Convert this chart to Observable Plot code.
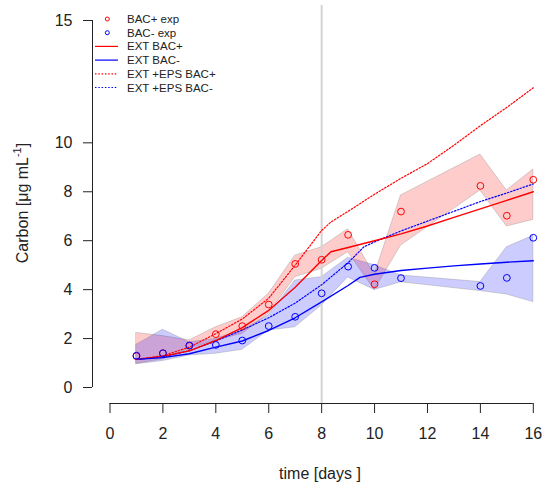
<!DOCTYPE html>
<html><head><meta charset="utf-8">
<script src="https://cdn.jsdelivr.net/npm/d3@7"></script>
<script src="https://cdn.jsdelivr.net/npm/@observablehq/plot@0.6"></script>
<style>body{margin:0;background:#fff}#chart{width:542px;height:484px}</style>
</head><body><div id="chart"></div>
<script>
// ---- data ----
const days = [1, 2, 3, 4, 5, 6, 7, 8, 9, 10, 11, 14, 15, 16];
const bacPlusExp  = [1.28, 1.40, 1.70, 2.18, 2.51, 3.39, 5.05, 5.22, 6.24, 4.22, 7.19, 8.24, 7.02, 8.49];
const bacMinusExp = [1.30, 1.40, 1.72, 1.74, 1.92, 2.51, 2.89, 3.85, 4.94, 4.89, 4.47, 4.15, 4.48, 6.12];
const bacPlusLow   = [0.97, 1.15, 1.58, 1.92, 2.19, 3.01, 4.51, 4.85, 5.53, 3.99, 5.80, 8.05, 6.58, 6.85];
const bacPlusHigh  = [2.23, 2.10, 1.92, 2.46, 2.87, 3.83, 5.39, 5.73, 6.47, 4.60, 7.85, 9.52, 8.05, 8.91];
const bacMinusLow  = [0.95, 1.08, 1.31, 1.38, 1.54, 2.33, 2.46, 3.35, 4.50, 3.99, 4.30, 3.94, 3.80, 3.49];
const bacMinusHigh = [1.75, 2.36, 1.85, 1.99, 2.33, 2.95, 4.37, 4.51, 5.30, 5.00, 4.58, 4.31, 5.73, 6.20];

const extPlusTimes = [1, 2, 3, 4, 5, 6, 7, 8, 8.35, 9, 10, 11, 12, 13, 14, 15, 16];
const extBacPlus   = [1.15, 1.27, 1.50, 1.92, 2.45, 3.15, 4.10, 5.19, 5.55, 5.72, 6.00, 6.28, 6.60, 6.95, 7.30, 7.65, 8.00];
const extMinusTimes = [1, 2, 3, 4, 5, 6, 7, 8, 9, 9.45, 10, 11, 12, 13, 14, 15, 16];
const extBacMinus   = [1.15, 1.22, 1.38, 1.65, 1.90, 2.33, 2.85, 3.50, 4.17, 4.50, 4.63, 4.78, 4.88, 4.97, 5.05, 5.12, 5.18];
const epsPlusTimes = [1, 2, 3, 4, 5, 6, 7, 8, 8.35, 9, 10, 11, 12, 13, 14, 15, 16];
const epsBacPlus   = [1.15, 1.30, 1.65, 2.20, 2.80, 3.65, 5.00, 6.42, 6.76, 7.20, 7.90, 8.55, 9.15, 9.90, 10.70, 11.45, 12.25];
const epsMinusTimes = [1, 2, 3, 4, 5, 6, 7, 8, 9, 9.6, 10, 11, 12, 13, 14, 15, 16];
const epsBacMinus   = [1.15, 1.25, 1.50, 1.90, 2.35, 2.85, 3.45, 4.20, 5.10, 5.75, 5.95, 6.40, 6.80, 7.20, 7.60, 7.95, 8.32];

const markerDay = 8;
const xTicks = [0, 2, 4, 6, 8, 10, 12, 14, 16];
const yTicks = [0, 2, 4, 6, 8, 10, 15];
const legendLabels = ["BAC+ exp", "BAC- exp", "EXT BAC+", "EXT BAC-", "EXT +EPS BAC+", "EXT +EPS BAC-"];
const xLabel = "time [days ]";

// ---- tables ----
const RED = "#ff0000", BLUE = "#0000ff";
const DOTS = "1.5,1.8";
const band = (lo, hi) => days.map((t, i) => ({t, lo: lo[i], hi: hi[i]}));
const series = (ts, vs) => ts.map((t, i) => ({t, v: vs[i]}));
const pts = (vs) => days.map((t, i) => ({t, v: vs[i]}));

const chart = Plot.plot({
  width: 542, height: 484,
  marginLeft: 92, marginTop: 5, marginRight: 0, marginBottom: 81,
  style: {fontFamily: "'Liberation Sans', Arial, sans-serif", fontSize: "16px", color: "#222", background: "#fff"},
  x: {domain: [0, 16], range: [109.5, 532.8], ticks: xTicks, tickSize: 10, tickPadding: 14, label: null},
  y: {domain: [0, 15], range: [387, 20], ticks: yTicks, tickSize: 9, tickPadding: 11, label: null},
  marks: [
    Plot.areaY(band(bacPlusLow, bacPlusHigh), {x: "t", y1: "lo", y2: "hi", fill: RED, fillOpacity: 0.2, stroke: "#777", strokeOpacity: 0.3}),
    Plot.areaY(band(bacMinusLow, bacMinusHigh), {x: "t", y1: "lo", y2: "hi", fill: BLUE, fillOpacity: 0.2, stroke: "#777", strokeOpacity: 0.3}),
    Plot.ruleX([markerDay], {stroke: "#d3d3d3", strokeWidth: 2}),
    Plot.ruleY([{y: yTicks[0], x1: xTicks[0], x2: xTicks[xTicks.length - 1]}], {y: "y", x1: "x1", x2: "x2", dy: 16, stroke: "#222"}),
    Plot.ruleX([{x: xTicks[0], y1: yTicks[0], y2: yTicks[yTicks.length - 1]}], {x: "x", y1: "y1", y2: "y2", dx: -17.5, stroke: "#222"}),
    Plot.line(series(epsPlusTimes, epsBacPlus), {x: "t", y: "v", stroke: RED, strokeWidth: 1.2, strokeDasharray: DOTS}),
    Plot.line(series(epsMinusTimes, epsBacMinus), {x: "t", y: "v", stroke: BLUE, strokeWidth: 1.2, strokeDasharray: DOTS}),
    Plot.line(series(extPlusTimes, extBacPlus), {x: "t", y: "v", stroke: RED, strokeWidth: 1.4}),
    Plot.line(series(extMinusTimes, extBacMinus), {x: "t", y: "v", stroke: BLUE, strokeWidth: 1.4}),
    Plot.dot(pts(bacPlusExp), {x: "t", y: "v", r: 3.4, stroke: RED, strokeWidth: 1, fill: "none"}),
    Plot.dot(pts(bacMinusExp), {x: "t", y: "v", r: 3.4, stroke: BLUE, strokeWidth: 1, fill: "none"})
  ]
});
document.getElementById("chart").appendChild(chart);

const svg = d3.select(chart);
// axis titles
svg.append("text").attr("x", 320).attr("y", 479).attr("text-anchor", "middle")
  .attr("fill", "#222").style("font-size", "16px").text(xLabel);
const yl = svg.append("text").attr("transform", "translate(28,203) rotate(-90)")
  .attr("text-anchor", "middle").attr("fill", "#222").style("font-size", "16px");
yl.append("tspan").text("Carbon [μg mL");
yl.append("tspan").attr("dy", -7).style("font-size", "11px").text("-1");
yl.append("tspan").attr("dy", 7).text("]");

// legend
const lg = svg.append("g").style("font-size", "11.5px").attr("text-anchor", "start");
const legendKinds = [
  {type: "dot", color: RED}, {type: "dot", color: BLUE},
  {type: "line", color: RED}, {type: "line", color: BLUE},
  {type: "dash", color: RED}, {type: "dash", color: BLUE}
];
legendLabels.forEach((lab, i) => {
  const y = 19 + i * 13.7;
  const k = legendKinds[i];
  if (k.type === "dot") {
    lg.append("circle").attr("cx", 107.3).attr("cy", y).attr("r", 2).attr("fill", "none").attr("stroke", k.color);
  } else {
    lg.append("line").attr("x1", 95).attr("x2", 118).attr("y1", y).attr("y2", y).attr("stroke", k.color)
      .attr("stroke-width", 1.2).attr("stroke-dasharray", k.type === "dash" ? DOTS : null);
  }
  lg.append("text").attr("x", 127).attr("y", y).attr("dy", "0.35em").attr("text-anchor", "start").attr("fill", "#222").text(lab);
});
</script></body></html>
